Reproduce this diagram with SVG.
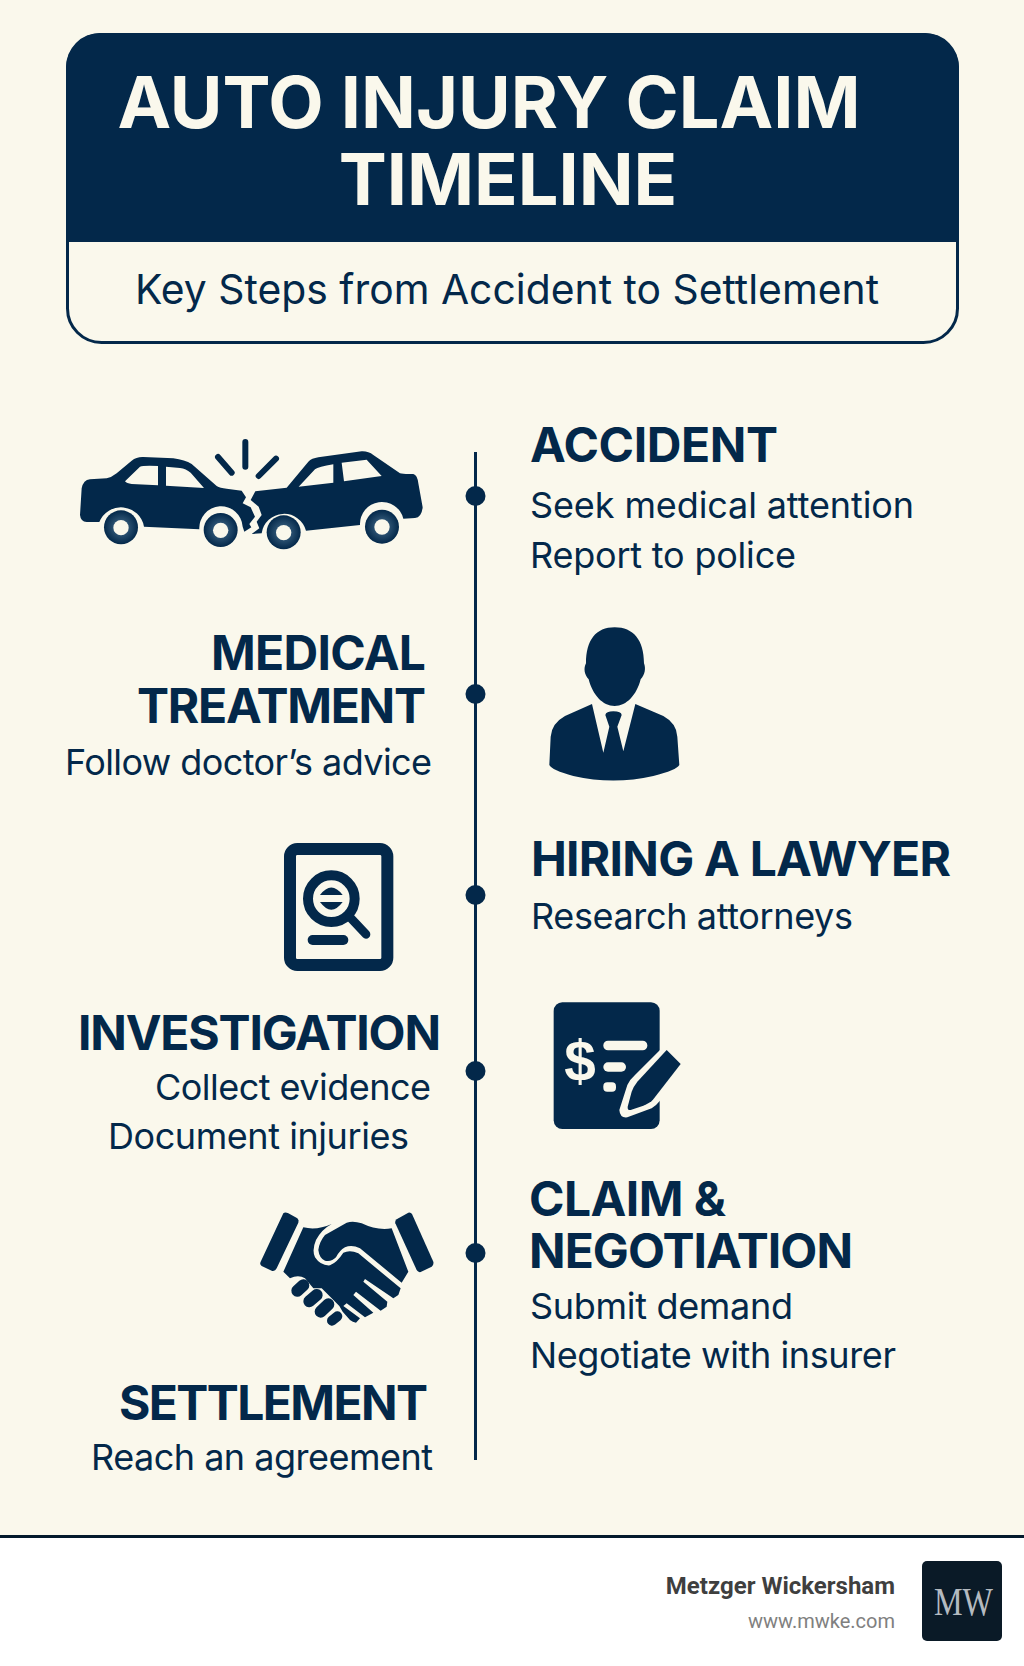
<svg xmlns="http://www.w3.org/2000/svg" width="1024" height="1666" viewBox="0 0 1024 1666">
<defs>
<radialGradient id="wheel"><stop offset="0.45" stop-color="#2a5070"/><stop offset="1" stop-color="#03284a"/></radialGradient>
</defs>
<style>
.ink{fill:#03284a}
.bg{fill:#faf8ec}
.hd{font-family:Inter,"Liberation Sans",sans-serif;font-weight:700;font-size:48px;fill:#03284a}
.bd{font-family:Inter,"Liberation Sans",sans-serif;font-size:36px;fill:#03284a}
.ttl{font-family:Inter,"Liberation Sans",sans-serif;font-weight:700;font-size:72px;fill:#faf8ec;text-anchor:middle}
.wh{fill:url(#wheel)}
.rays{stroke:#03284a;stroke-width:18;stroke-linecap:round;fill:none}
</style>
<rect class="bg" width="1024" height="1666"/>
<rect x="0" y="1536" width="1024" height="130" fill="#fff"/>
<rect x="0" y="1535" width="1024" height="3" fill="#03192c"/>
<g id="header">
<rect x="67.500" y="34.500" width="890" height="308" rx="34" fill="#faf8ec" stroke="#03284a" stroke-width="3"/>
<path class="ink" d="M66 242V67a34 34 0 0 1 34-34H925a34 34 0 0 1 34 34V242Z"/>
<text class="ttl" x="489" y="128">AUTO INJURY CLAIM</text>
<text class="ttl" x="508" y="205">TIMELINE</text>
<text x="507" y="304" text-anchor="middle" font-family="Inter,sans-serif" font-size="41" fill="#03284a" textLength="744" lengthAdjust="spacingAndGlyphs">Key Steps from Accident to Settlement</text>
</g>
<g id="connectors">
<line x1="475.500" y1="452" x2="475.500" y2="1460" stroke="#03284a" stroke-width="3"/>
<circle class="ink" cx="475.500" cy="496" r="10"/>
<circle class="ink" cx="475.500" cy="694" r="10"/>
<circle class="ink" cx="475.500" cy="895" r="10"/>
<circle class="ink" cx="475.500" cy="1071" r="10"/>
<circle class="ink" cx="475.500" cy="1253" r="10"/>
</g>
<g id="accident-icon" transform="translate(60 420) scale(.33333)">
<path class="ink" d="M60 285 65 205Q70 180 90 178L140 175Q155 172 170 160L215 122Q230 110 250 111L340 115Q375 120 395 132L470 198Q480 204 500 206L545 212 558 232 548 250 572 262 585 290 568 312 574 322 553 335 548 320A64 64 0 0 0 418 328L252 320A70 70 0 0 0 118 306L80 306Q62 305 60 285Z"/>
<path class="bg" d="M195 184 240 140Q250 136 294 138V196L215 192Q200 190 195 184ZM318 140 360 144Q378 146 392 158L432 204 318 197Z"/>
<path class="ink" d="M586 214 680 203 745 125Q755 115 775 112L905 94Q925 93 940 105L1020 160Q1030 163 1060 162 1072 165 1075 190L1088 262Q1085 292 1065 294L1030 296A66 66 0 0 0 900 315L738 332A68 68 0 0 0 605 340L575 342 598 325 590 305 605 285 596 260 572 240Z"/>
<path class="bg" d="M716 200 765 148Q775 140 820 133V188ZM845 128 920 119 965 168 852 184Z"/>
<circle class="wh" cx="183" cy="322" r="51"/><circle class="bg" cx="183" cy="323" r="23"/>
<circle class="wh" cx="482" cy="330" r="51"/><circle class="bg" cx="482" cy="331" r="23"/>
<circle class="wh" cx="671" cy="337" r="51"/><circle class="bg" cx="671" cy="338" r="23"/>
<circle class="wh" cx="966" cy="320" r="51"/><circle class="bg" cx="966" cy="321" r="23"/>
<path class="rays" d="M556 66V140M474 111 515 158M648 116 596 168"/>
</g>
<g id="accident">
<text class="hd" x="530" y="462" textLength="248">ACCIDENT</text>
<text class="bd" x="530" y="518" textLength="384">Seek medical attention</text>
<text class="bd" x="530" y="568" textLength="266">Report to police</text>
</g>
<g id="medical-treatment">
<text class="hd" x="426" y="670" text-anchor="end" textLength="215">MEDICAL</text>
<text class="hd" x="426" y="723" text-anchor="end" textLength="289">TREATMENT</text>
<text class="bd" x="432" y="775" text-anchor="end" textLength="367">Follow doctor’s advice</text>
</g>
<g id="lawyer-icon" transform="translate(520 610) scale(.33333)">
<path class="ink" d="M284 52C340 52 372 90 372 160 378 175 375 195 362 208 350 255 320 288 284 288 248 288 218 255 206 208 193 195 190 175 198 160 198 90 228 52 284 52Z"/>
<path class="ink" d="M216 282 250 428 268 350 256 315Q258 304 280 304 304 304 305 315L292 350 310 424 346 282 430 318Q470 340 472 380L478 465Q470 480 400 498 280 525 160 498 95 480 88 465L92 380Q95 340 135 318Z"/>
</g>
<g id="hiring-a-lawyer">
<text class="hd" x="531" y="876" textLength="420">HIRING A LAWYER</text>
<text class="bd" x="531" y="929" textLength="322">Research attorneys</text>
</g>
<g id="search-icon" transform="translate(270 830) scale(.33333)">
<rect x="60" y="57" width="292" height="348" rx="22" fill="none" stroke="#03284a" stroke-width="36"/>
<circle cx="184" cy="206" r="70" fill="none" stroke="#03284a" stroke-width="30"/>
<path class="ink" d="M150 195Q184 150 218 195ZM150 216H218Q184 262 150 216Z"/>
<path d="M240 262 288 313" stroke="#03284a" stroke-width="26" stroke-linecap="round"/>
<path d="M128 330H220" stroke="#03284a" stroke-width="30" stroke-linecap="round"/>
</g>
<g id="investigation">
<text class="hd" x="441" y="1050" text-anchor="end" textLength="363">INVESTIGATION</text>
<text class="bd" x="431" y="1100" text-anchor="end" textLength="276">Collect evidence</text>
<text class="bd" x="409" y="1149" text-anchor="end" textLength="301">Document injuries</text>
</g>
<g id="claim-icon" transform="translate(540 990) scale(.33333)">
<rect class="ink" x="41" y="37" width="318" height="380" rx="26"/>
<path class="bg" d="M372 168 440 225 362 330Q350 345 335 355L262 382Q240 385 238 360L262 285Q268 270 285 255Z"/>
<path class="ink" d="M380 180 422 222 340 328Q330 340 310 347L272 360Q262 362 263 350L275 305Q280 290 292 275Z"/>
<rect class="bg" x="190" y="152" width="132" height="29" rx="14"/>
<rect class="bg" x="190" y="217" width="68" height="28" rx="14"/>
<rect class="bg" x="190" y="277" width="38" height="28" rx="12"/>
<text x="120" y="274" text-anchor="middle" font-family="Liberation Sans,sans-serif" font-weight="700" font-size="170" fill="#faf8ec">$</text>
</g>
<g id="claim-negotiation">
<text class="hd" x="529" y="1216" textLength="197">CLAIM &amp;</text>
<text class="hd" x="529" y="1268" textLength="324">NEGOTIATION</text>
<text class="bd" x="530" y="1319" textLength="263">Submit demand</text>
<text class="bd" x="530" y="1368" textLength="366">Negotiate with insurer</text>
</g>
<g id="handshake-icon" transform="translate(250 1200) scale(.33333)">
<path class="ink" d="M100 40Q105 35 115 40L142 55Q148 60 145 68L80 205Q75 215 65 212L35 198Q28 192 32 185Z"/>
<path class="ink" d="M440 58 475 38Q482 36 486 42L550 185Q552 195 545 200L512 216Q505 218 500 210L436 70Q434 62 440 58Z"/>
<path class="ink" d="M205 150Q208 125 225 105L290 68Q310 62 335 70 380 92 425 85L475 215 455 248 330 145Q305 132 285 142 268 152 258 172 245 186 225 182 208 175 205 150Z"/>
<path class="ink" d="M160 82Q200 92 245 72 215 88 198 120 185 150 195 172 212 198 240 196 262 186 280 158 300 148 325 160L452 265 445 285 430 295 345 237 340 245 412 305 410 320 392 332 318 275 310 285 370 338 345 352 290 310 280 318 330 355 318 368Q308 366 300 360L278 335 268 318 245 295 215 265 190 265 165 235Q145 222 120 235L100 215Z"/>
<path d="M142 272 160 256M178 304 200 285M212 335 235 313" stroke="#03284a" stroke-width="36" stroke-linecap="round"/>
<path d="M246 362 262 349" stroke="#03284a" stroke-width="30" stroke-linecap="round"/>
</g>
<g id="settlement">
<text class="hd" x="428" y="1420" text-anchor="end" textLength="309">SETTLEMENT</text>
<text class="bd" x="433" y="1470" text-anchor="end" textLength="342">Reach an agreement</text>
</g>
<g id="footer">
<text x="895" y="1594" text-anchor="end" font-family="Roboto,sans-serif" font-weight="700" font-size="24" fill="#3f3f3f">Metzger Wickersham</text>
<text x="895" y="1628" text-anchor="end" font-family="Roboto,sans-serif" font-size="20" fill="#808080">www.mwke.com</text>
<rect x="922" y="1561" width="80" height="80" rx="5" fill="#0a1a27"/>
<text x="934" y="1615" font-family="Liberation Serif,serif" font-size="40" fill="#b4bac0" textLength="59" lengthAdjust="spacingAndGlyphs">MW</text>
</g>
</svg>
